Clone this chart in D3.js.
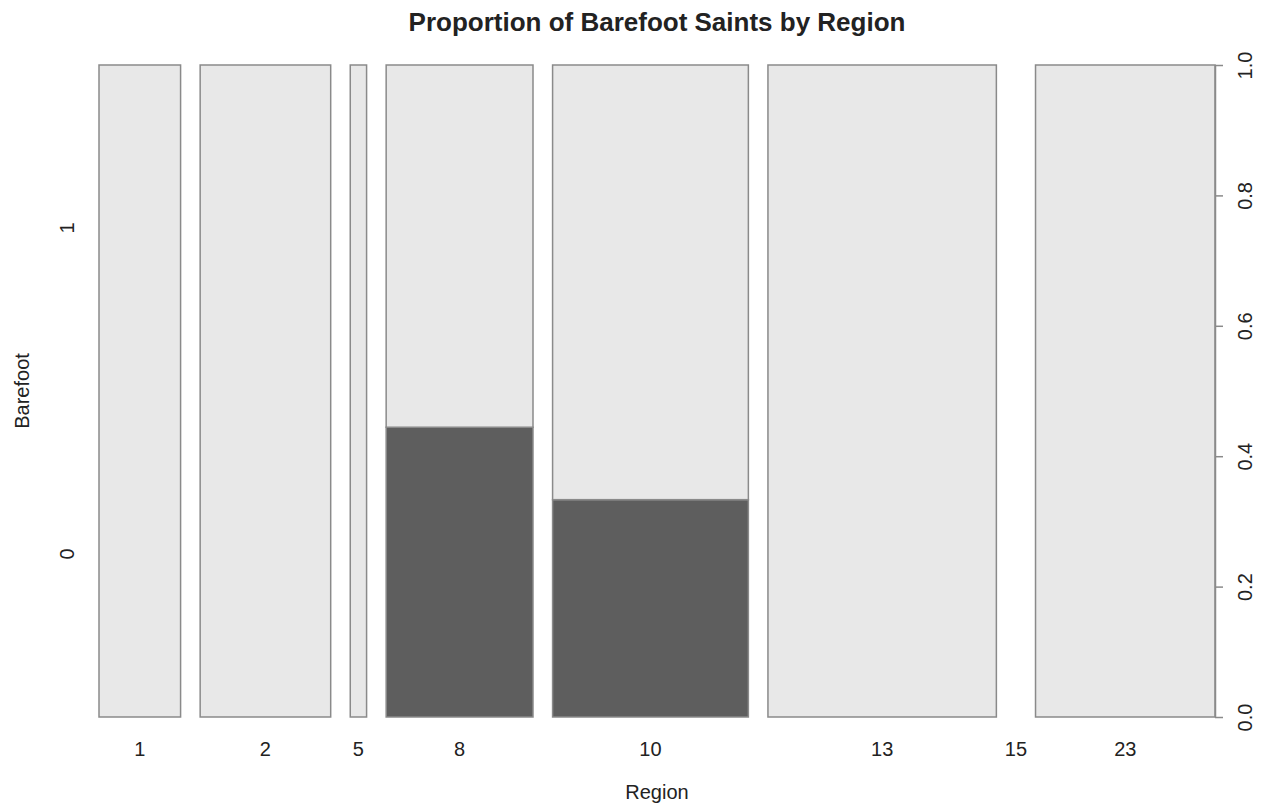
<!DOCTYPE html>
<html>
<head>
<meta charset="utf-8">
<script src="https://cdn.jsdelivr.net/npm/d3@7"></script>
<style>
body{margin:0;background:#fff;}
text{font-family:"Liberation Sans", Arial, Helvetica, sans-serif;fill:#222;}
</style>
</head>
<body>
<svg id="chart" width="1262" height="806"></svg>
<script>
// spineplot data: counts per region, split by Barefoot level
var regions = ['1', '2', '5', '8', '10', '13', '15', '23'];
var barefoot0 = [0, 0, 0, 4, 4, 0, 0, 0];
var barefoot1 = [5, 8, 1, 5, 8, 14, 0, 11];
var yLevels = ['0', '1'];
var propTicks = [0, 0.2, 0.4, 0.6, 0.8, 1.0];

var svg = d3.select('#chart');
var margin = {left: 99, right: 47, top: 65, bottom: 89};
var W = 1262, H = 806;
var off = 0.02;
var levelColors = ['#5e5e5e', '#e8e8e8'];

var totals = regions.map(function(r, i){ return barefoot0[i] + barefoot1[i]; });
var N = d3.sum(totals);

// cumulative x starts with a small gap between bars
var bars = [];
var cum = 0;
regions.forEach(function(r, i){
    var w = totals[i] / N;
    var p0 = totals[i] ? barefoot0[i] / totals[i] : 0;
    bars.push({region: r, x0: cum, x1: cum + w, p0: p0, total: totals[i]});
    cum += w + off;
});

var scaleX = d3.scaleLinear()
    .domain([0, 1 + off * (regions.length - 1)])
    .range([margin.left, W - margin.right]);
var scaleY = d3.scaleLinear()
    .domain([0, 1])
    .range([H - margin.bottom, margin.top]);

var segs = [];
bars.forEach(function(b){
    if(!b.total){ return; }
    segs.push({x0: b.x0, x1: b.x1, y0: 0, y1: b.p0, level: 0});
    segs.push({x0: b.x0, x1: b.x1, y0: b.p0, y1: 1, level: 1});
});

svg.append('g').attr('class', 'bars')
    .selectAll('rect')
    .data(segs.filter(function(d){ return d.y1 > d.y0; }))
    .enter().append('rect')
    .attr('x', function(d){ return scaleX(d.x0); })
    .attr('width', function(d){ return scaleX(d.x1) - scaleX(d.x0); })
    .attr('y', function(d){ return scaleY(d.y1); })
    .attr('height', function(d){ return scaleY(d.y0) - scaleY(d.y1); })
    .style('fill', function(d){ return levelColors[d.level]; })
    .style('stroke', '#8a8a8a')
    .style('stroke-width', 1.5);

// right axis: proportions
var rightAxis = svg.append('g')
    .attr('transform', 'translate(' + (W - margin.right) + ',0)')
    .call(d3.axisRight(scaleY).tickValues(propTicks).tickFormat(d3.format('.1f')).tickSize(8).tickSizeOuter(0));
rightAxis.select('.domain').attr('stroke', '#8a8a8a').attr('stroke-width', 1.5);
rightAxis.selectAll('.tick line').attr('stroke', '#8a8a8a').attr('stroke-width', 1.5);
rightAxis.selectAll('.tick text')
    .attr('x', null).attr('y', null).attr('dy', '0.35em')
    .attr('transform', 'translate(30,0) rotate(-90)')
    .attr('text-anchor', 'middle')
    .style('font-size', '20px')
    .style('fill', '#222');

// x labels at bar centres
svg.append('g').selectAll('text.xlab')
    .data(bars)
    .enter().append('text')
    .attr('class', 'xlab')
    .attr('x', function(d){ return scaleX((d.x0 + d.x1) / 2); })
    .attr('y', 749)
    .attr('dy', '0.35em')
    .attr('text-anchor', 'middle')
    .style('font-size', '20px')
    .text(function(d){ return d.region; });

// left labels for Barefoot levels
svg.append('g').selectAll('text.ylab')
    .data(yLevels)
    .enter().append('text')
    .attr('class', 'ylab')
    .attr('transform', function(d, i){
        return 'translate(67,' + scaleY((i + 0.5) / yLevels.length) + ') rotate(-90)';
    })
    .attr('dy', '0.35em')
    .attr('text-anchor', 'middle')
    .style('font-size', '20px')
    .text(function(d){ return d; });

svg.append('text')
    .attr('transform', 'translate(22,' + scaleY(0.5) + ') rotate(-90)')
    .attr('dy', '0.35em')
    .attr('text-anchor', 'middle')
    .style('font-size', '20px')
    .text('Barefoot');

svg.append('text')
    .attr('x', (scaleX.range()[0] + scaleX.range()[1]) / 2)
    .attr('y', 792)
    .attr('dy', '0.35em')
    .attr('text-anchor', 'middle')
    .style('font-size', '20px')
    .text('Region');

svg.append('text')
    .attr('x', (scaleX.range()[0] + scaleX.range()[1]) / 2)
    .attr('y', 22)
    .attr('dy', '0.35em')
    .attr('text-anchor', 'middle')
    .style('font-size', '26px')
    .style('font-weight', 'bold')
    .text('Proportion of Barefoot Saints by Region');
</script>
</body>
</html>
